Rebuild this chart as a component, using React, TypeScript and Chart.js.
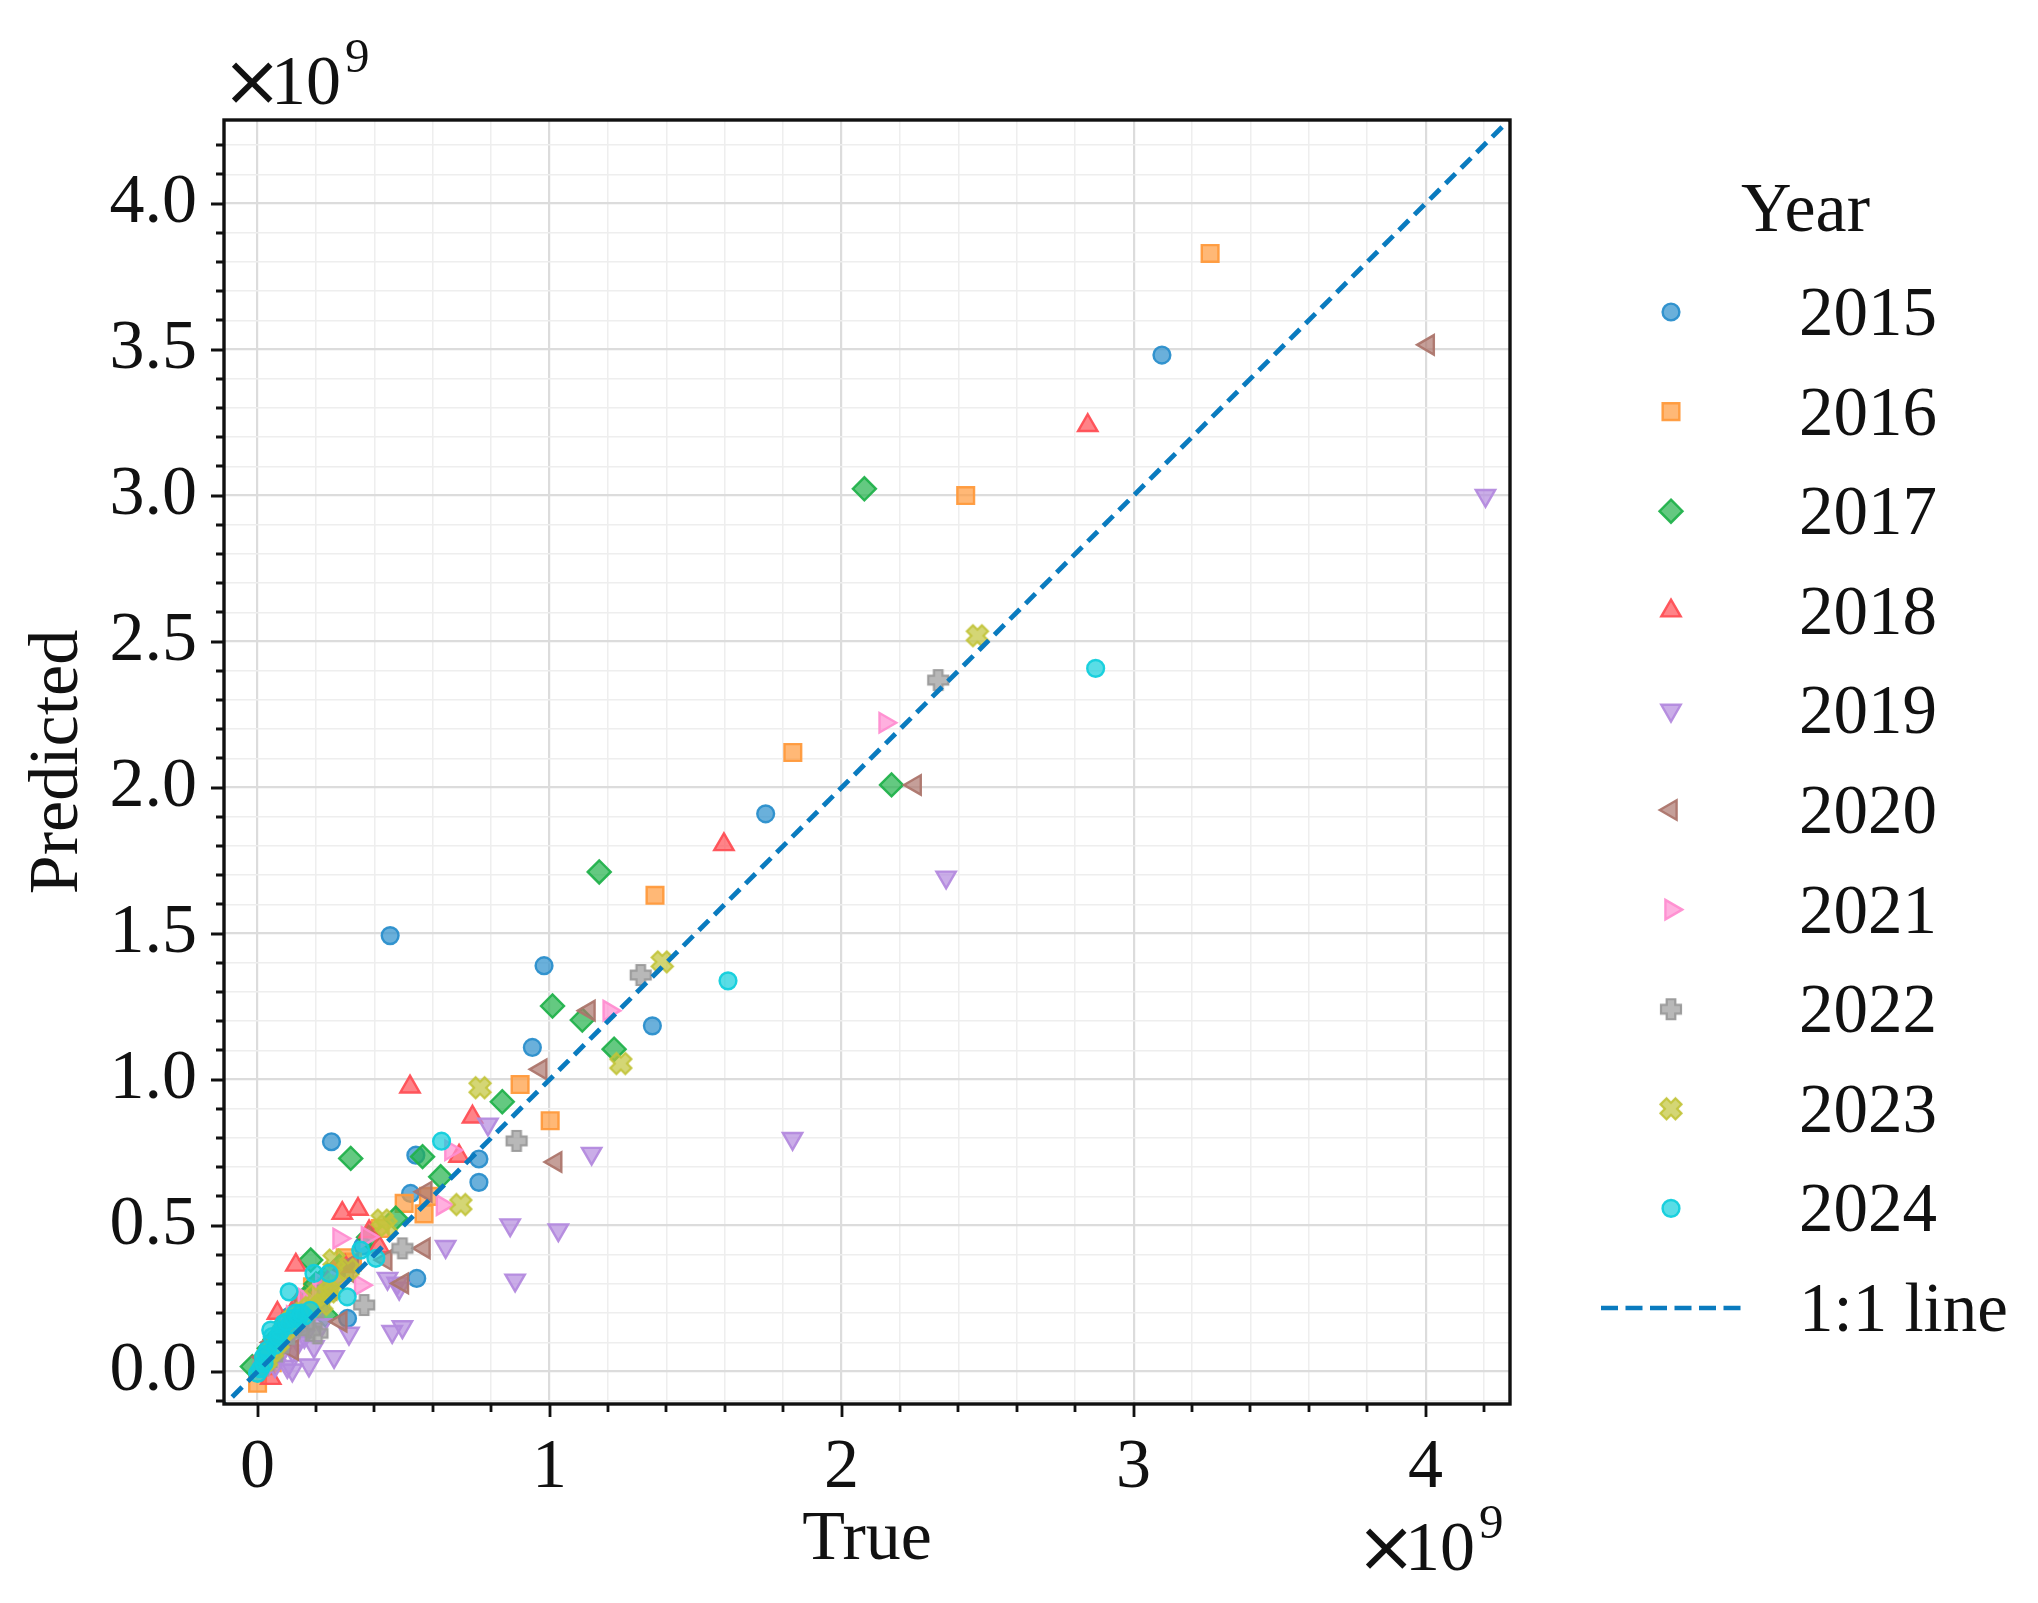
import React, { useEffect, useRef } from 'react';
import { Chart, registerables } from 'chart.js';

Chart.register(...registerables);

// Canvas size and plot frame (pixels)
const W = 2038;
const H = 1603;
const AREA = { left: 224, top: 120, right: 1510, bottom: 1404 };
const SERIF = '"Liberation Serif", "Times New Roman", Times, serif';
const SANS = '"DejaVu Sans", "Liberation Sans", sans-serif';
const INK = '#111111';

// Axis ranges, values in units of 10^9
const X_RANGE = [-0.115, 4.289];
const Y_RANGE = [-0.111, 4.286];
const X_MAJOR_TICKS = [0, 1, 2, 3, 4];
const Y_MAJOR_TICKS = [0, 0.5, 1, 1.5, 2, 2.5, 3, 3.5, 4];
const X_MINOR_STEP = 0.2;
const Y_MINOR_STEP = 0.1;
const EXPONENT = '9';

const YEARS = ['2015', '2016', '2017', '2018', '2019', '2020', '2021', '2022', '2023', '2024'];
const YEAR_COLORS = ['#2b8fcc', '#ff9a3c', '#22b24c', '#ff4f55', '#b48ade', '#ad766d', '#ff8ed1', '#9a9a9a', '#c2c43a', '#12cfdc'];

// [true, predicted] pairs per year, ×10^9
const Y2015 = [
  [3.097, 3.481], [1.74, 1.91], [0.454, 1.493], [0.981, 1.39], [1.352, 1.184], [0.941, 1.11], [0.253, 0.787],
  [0.758, 0.728], [0.758, 0.648], [0.542, 0.741], [0.524, 0.61], [0.545, 0.319], [0.308, 0.182],
  [0.02, 0.03], [0.05, 0.09], [0.09, 0.15], [0.14, 0.21], [0.19, 0.26], [0.27, 0.33], [0.36, 0.43],
  [0.07, 0.11], [0.11, 0.19], [0.17, 0.24], [0.22, 0.31],
];
const Y2016 = [
  [3.262, 3.829], [2.425, 3.0], [1.833, 2.12], [1.361, 1.631], [0.899, 0.983], [1.002, 0.859], [0.502, 0.576],
  [0.57, 0.54], [0.585, 0.6], [0.325, 0.375], [0.188, 0.29], [0.0, -0.04],
  [0.03, 0.02], [0.06, 0.06], [0.1, 0.12], [0.15, 0.2], [0.24, 0.31], [0.42, 0.49], [0.3, 0.39],
  [0.08, 0.09], [0.12, 0.17], [0.2, 0.26], [0.05, 0.03],
];
const Y2017 = [
  [2.078, 3.023], [2.171, 2.009], [1.17, 1.711], [1.01, 1.252], [1.112, 1.204], [1.221, 1.104], [0.838, 0.924],
  [0.319, 0.73], [0.565, 0.736], [0.627, 0.667], [0.473, 0.525], [0.182, 0.382], [0.233, 0.193], [-0.018, 0.017],
  [0.04, 0.08], [0.08, 0.13], [0.12, 0.19], [0.2, 0.3], [0.28, 0.36], [0.38, 0.46],
  [0.06, 0.11], [0.1, 0.17], [0.16, 0.25], [0.24, 0.33],
];
const Y2018 = [
  [2.843, 3.24], [1.597, 1.805], [0.522, 0.975], [0.736, 0.872], [0.69, 0.738], [0.29, 0.542], [0.344, 0.556],
  [0.382, 0.479], [0.416, 0.428], [0.131, 0.365], [0.068, 0.2], [0.045, -0.023],
  [0.02, 0.04], [0.07, 0.1], [0.11, 0.17], [0.17, 0.23], [0.22, 0.29], [0.3, 0.36],
  [0.04, 0.08], [0.09, 0.15], [0.14, 0.24], [0.26, 0.34],
];
const Y2019 = [
  [4.205, 3.0], [2.358, 1.693], [1.832, 0.798], [1.03, 0.485], [0.865, 0.502], [0.882, 0.313], [0.789, 0.847],
  [1.144, 0.747], [0.644, 0.428], [0.445, 0.319], [0.478, 0.302], [0.485, 0.285], [0.461, 0.137], [0.496, 0.153],
  [0.313, 0.131], [0.193, 0.085], [0.262, 0.051], [0.176, 0.022], [0.102, 0.017], [0.119, 0.005],
  [0.04, 0.03], [0.08, 0.06], [0.14, 0.1], [0.22, 0.16], [0.06, 0.02], [0.12, 0.07], [0.16, 0.12],
];
const Y2020 = [
  [4.009, 3.516], [2.252, 2.009], [1.135, 1.236], [0.97, 1.035], [1.021, 0.718], [0.576, 0.616], [0.57, 0.422],
  [0.439, 0.382], [0.496, 0.302], [0.285, 0.171], [0.119, 0.074], [0.325, 0.37],
  [0.02, 0.05], [0.05, 0.1], [0.1, 0.14], [0.15, 0.18], [0.2, 0.25], [0.25, 0.28], [0.31, 0.34],
  [0.07, 0.11], [0.12, 0.16], [0.17, 0.21], [0.04, 0.06],
];
const Y2021 = [
  [2.149, 2.222], [1.204, 1.236], [0.662, 0.758], [0.633, 0.57], [0.279, 0.456], [0.376, 0.462], [0.353, 0.296],
  [0.03, 0.04], [0.06, 0.08], [0.1, 0.15], [0.16, 0.25], [0.21, 0.27], [0.27, 0.31],
  [0.08, 0.12], [0.12, 0.19], [0.18, 0.23], [0.22, 0.3],
];
const Y2022 = [
  [2.331, 2.368], [1.312, 1.358], [0.887, 0.79], [0.496, 0.422], [0.365, 0.228], [0.205, 0.131],
  [0.02, 0.02], [0.05, 0.05], [0.09, 0.11], [0.14, 0.17], [0.18, 0.14], [0.24, 0.28],
  [0.07, 0.08], [0.11, 0.13], [0.16, 0.16], [0.21, 0.22],
];
const Y2023 = [
  [2.465, 2.52], [1.386, 1.403], [1.244, 1.055], [0.762, 0.972], [0.696, 0.572], [0.427, 0.519], [0.262, 0.382],
  [0.245, 0.273], [0.03, 0.04], [0.07, 0.1], [0.12, 0.18], [0.18, 0.22], [0.22, 0.23], [0.31, 0.35], [0.44, 0.5],
  [0.05, 0.07], [0.09, 0.14], [0.15, 0.2], [0.2, 0.26], [0.26, 0.3],
];
const Y2024 = [
  [2.87, 2.408], [1.611, 1.338], [0.63, 0.789], [0.353, 0.416], [0.405, 0.388], [0.193, 0.336], [0.245, 0.336],
  [0.108, 0.273], [0.307, 0.256], [0.0, -0.006], [0.01, 0.01], [0.022, 0.028], [0.02, 0.05], [0.034, 0.074],
  [0.045, 0.142], [0.05, 0.12], [0.06, 0.09], [0.068, 0.108], [0.08, 0.14], [0.09, 0.165], [0.11, 0.16],
  [0.125, 0.182], [0.14, 0.182], [0.16, 0.19], [0.03, 0.06], [0.07, 0.12], [0.1, 0.17], [0.13, 0.2],
  [0.15, 0.2], [0.18, 0.21],
];
const YEAR_DATA = [Y2015, Y2016, Y2017, Y2018, Y2019, Y2020, Y2021, Y2022, Y2023, Y2024];

// Reference line y = x, drawn across the whole axis range
const LINE_1TO1 = [[-0.3, -0.3], [4.5, 4.5]];
const LINE_COLOR = '#0a7bbf';

type Marker = { style: string; radius: number; rotation: number; glyph?: 'plus' | 'x' };
const MARKERS: Marker[] = [
  { style: 'circle', radius: 8.4, rotation: 0 },
  { style: 'rect', radius: 11.8, rotation: 0 },
  { style: 'rectRot', radius: 11.5, rotation: 0 },
  { style: 'triangle', radius: 11.2, rotation: 0 },
  { style: 'triangle', radius: 11.2, rotation: 180 },
  { style: 'triangle', radius: 11.2, rotation: 270 },
  { style: 'triangle', radius: 11.2, rotation: 90 },
  { style: 'glyph', radius: 10, rotation: 0, glyph: 'plus' },
  { style: 'glyph', radius: 10, rotation: 0, glyph: 'x' },
  { style: 'circle', radius: 8.4, rotation: 0 },
];

function withAlpha(hex: string, a: number) {
  const n = parseInt(hex.slice(1), 16);
  return `rgba(${(n >> 16) & 255},${(n >> 8) & 255},${n & 255},${a})`;
}

function isMajor(v: number, majors: number[]) {
  return majors.some((m) => Math.abs(m - v) < 1e-6);
}

// Thick plus / thick x glyphs used as point images
function makeGlyph(kind: 'plus' | 'x', color: string) {
  const size = 26;
  const c = document.createElement('canvas');
  c.width = size;
  c.height = size;
  const g = c.getContext('2d')!;
  g.translate(size / 2, size / 2);
  if (kind === 'x') g.rotate(Math.PI / 4);
  const a = kind === 'x' ? 10.6 : 10;
  const t = 4.3;
  g.beginPath();
  g.moveTo(-t, -a); g.lineTo(t, -a); g.lineTo(t, -t); g.lineTo(a, -t); g.lineTo(a, t); g.lineTo(t, t);
  g.lineTo(t, a); g.lineTo(-t, a); g.lineTo(-t, t); g.lineTo(-a, t); g.lineTo(-a, -t); g.lineTo(-t, -t);
  g.closePath();
  g.fillStyle = withAlpha(color, 0.7);
  g.fill();
  g.strokeStyle = withAlpha(color, 0.95);
  g.lineWidth = 2.2;
  g.stroke();
  return c;
}

function drawMarker(ctx: CanvasRenderingContext2D, m: Marker, color: string, x: number, y: number, glyph?: HTMLCanvasElement) {
  if (glyph) {
    ctx.drawImage(glyph, x - glyph.width / 2, y - glyph.height / 2);
    return;
  }
  ctx.save();
  ctx.translate(x, y);
  let rad = (m.rotation * Math.PI) / 180;
  const r = m.radius;
  ctx.beginPath();
  if (m.style === 'circle') {
    ctx.arc(0, 0, r, 0, Math.PI * 2);
  } else if (m.style === 'rect') {
    const s = r * Math.SQRT1_2;
    ctx.rect(-s, -s, 2 * s, 2 * s);
  } else if (m.style === 'rectRot') {
    ctx.moveTo(0, -r); ctx.lineTo(r, 0); ctx.lineTo(0, r); ctx.lineTo(-r, 0); ctx.closePath();
  } else {
    for (let i = 0; i < 3; i++) {
      const px = Math.sin(rad) * r;
      const py = -Math.cos(rad) * r;
      if (i === 0) ctx.moveTo(px, py); else ctx.lineTo(px, py);
      rad += (2 * Math.PI) / 3;
    }
    ctx.closePath();
  }
  ctx.fillStyle = withAlpha(color, 0.7);
  ctx.fill();
  ctx.strokeStyle = withAlpha(color, 0.95);
  ctx.lineWidth = 2.4;
  ctx.stroke();
  ctx.restore();
}

// "×10" with a superscript exponent; inkLeft is where the × glyph starts
function drawPower(ctx: CanvasRenderingContext2D, inkLeft: number, baseline: number) {
  ctx.textAlign = 'left';
  ctx.textBaseline = 'alphabetic';
  ctx.fillStyle = INK;

  // size the × so its ink is about 42px wide
  ctx.font = `100px ${SANS}`;
  let m = ctx.measureText('\u00d7');
  const inkW = m.actualBoundingBoxRight + m.actualBoundingBoxLeft;
  const size = Math.max(20, Math.round((100 * 42) / Math.max(1, inkW)));
  ctx.font = `${size}px ${SANS}`;
  m = ctx.measureText('\u00d7');
  const xBase = inkLeft + m.actualBoundingBoxLeft;
  const inkMid = (m.actualBoundingBoxAscent - m.actualBoundingBoxDescent) / 2;
  const xCenterY = baseline - 22;
  ctx.fillText('\u00d7', xBase, xCenterY + inkMid);
  const inkRight = xBase + m.actualBoundingBoxRight;

  ctx.font = `70px ${SERIF}`;
  const m10 = ctx.measureText('10');
  const tenX = inkRight + 4 + m10.actualBoundingBoxLeft;
  ctx.fillText('10', tenX, baseline);
  const tenRight = tenX + m10.actualBoundingBoxRight;

  ctx.font = `49px ${SERIF}`;
  ctx.fillText(EXPONENT, tenRight + 6, baseline - 32);
}

export default function App() {
  const ref = useRef<HTMLCanvasElement>(null);

  useEffect(() => {
    const canvas = ref.current;
    if (!canvas) return;

    const glyphs: (HTMLCanvasElement | undefined)[] = MARKERS.map((m, i) =>
      m.glyph ? makeGlyph(m.glyph, YEAR_COLORS[i]) : undefined
    );

    const yearSets = YEARS.map((year, i) => {
      const m = MARKERS[i];
      const color = YEAR_COLORS[i];
      return {
        type: 'scatter' as const,
        label: year,
        data: YEAR_DATA[i].map(([x, y]) => ({ x, y })),
        pointStyle: (glyphs[i] ?? m.style) as any,
        pointRadius: m.radius,
        pointRotation: m.rotation,
        backgroundColor: withAlpha(color, 0.7),
        borderColor: withAlpha(color, 0.95),
        borderWidth: 2.4,
        order: YEARS.length - i,
      };
    });

    const lineSet = {
      type: 'scatter' as const,
      label: '1:1 line',
      data: LINE_1TO1.map(([x, y]) => ({ x, y })),
      showLine: true,
      pointRadius: 0,
      borderColor: LINE_COLOR,
      backgroundColor: LINE_COLOR,
      borderWidth: 4.8,
      borderDash: [14, 8],
      order: 0,
    };

    const decor = {
      id: 'decor',
      afterDraw(chart: any) {
        const ctx: CanvasRenderingContext2D = chart.ctx;
        const a = chart.chartArea;
        const xs = chart.scales.x;
        const ys = chart.scales.y;
        ctx.save();

        // tick marks outside the frame
        ctx.strokeStyle = INK;
        ctx.lineWidth = 2.8;
        ctx.beginPath();
        for (const t of xs.ticks) {
          const px = Math.round(xs.getPixelForValue(t.value));
          const len = isMajor(t.value, X_MAJOR_TICKS) ? 13 : 8;
          ctx.moveTo(px, a.bottom);
          ctx.lineTo(px, a.bottom + len);
        }
        for (const t of ys.ticks) {
          const py = Math.round(ys.getPixelForValue(t.value));
          const len = isMajor(t.value, Y_MAJOR_TICKS) ? 13 : 8;
          ctx.moveTo(a.left, py);
          ctx.lineTo(a.left - len, py);
        }
        ctx.stroke();

        // frame
        ctx.lineWidth = 3.4;
        ctx.strokeRect(a.left, a.top, a.right - a.left, a.bottom - a.top);

        // ×10^9 multipliers
        drawPower(ctx, a.left + 7, 104);
        drawPower(ctx, a.right - 145, 1570);

        // legend
        const mx = 1671;
        const tx = 1799;
        const rowY = (k: number) => 312 + k * 99.6;
        ctx.fillStyle = INK;
        ctx.textAlign = 'left';
        ctx.textBaseline = 'alphabetic';
        ctx.font = `70px ${SERIF}`;
        ctx.fillText('Year', 1741, 208 + 23);
        YEARS.forEach((year, i) => {
          const y = rowY(i);
          drawMarker(ctx, MARKERS[i], YEAR_COLORS[i], mx, y, glyphs[i]);
          ctx.fillStyle = INK;
          ctx.font = `69px ${SERIF}`;
          ctx.fillText(year, tx, y + 23);
        });
        const ly = rowY(YEARS.length);
        ctx.strokeStyle = LINE_COLOR;
        ctx.lineWidth = 4.6;
        ctx.setLineDash([17, 7.5]);
        ctx.beginPath();
        ctx.moveTo(1601, ly);
        ctx.lineTo(1742, ly);
        ctx.stroke();
        ctx.setLineDash([]);
        ctx.fillStyle = INK;
        ctx.fillText('1:1 line', tx, ly + 23);

        ctx.restore();
      },
    };

    const gridColor = (majors: number[]) => (c: any) =>
      isMajor(c.tick?.value ?? NaN, majors) ? '#dcdcdc' : '#eeeeee';
    const gridWidth = (majors: number[]) => (c: any) =>
      isMajor(c.tick?.value ?? NaN, majors) ? 2.2 : 1.5;

    const chart = new Chart(canvas, {
      type: 'scatter',
      data: { datasets: [lineSet, ...yearSets] as any },
      options: {
        responsive: false,
        animation: false,
        layout: { padding: { left: 0, top: AREA.top, right: W - AREA.right, bottom: 0 } },
        plugins: { legend: { display: false }, tooltip: { enabled: false } },
        scales: {
          x: {
            type: 'linear',
            position: 'bottom',
            min: X_RANGE[0],
            max: X_RANGE[1],
            afterFit: (s: any) => { s.height = H - AREA.bottom; },
            border: { display: false },
            grid: { drawTicks: false, color: gridColor(X_MAJOR_TICKS), lineWidth: gridWidth(X_MAJOR_TICKS) },
            ticks: {
              stepSize: X_MINOR_STEP,
              includeBounds: false,
              autoSkip: false,
              maxRotation: 0,
              minRotation: 0,
              padding: 23,
              color: INK,
              font: { family: SERIF, size: 70 },
              callback: (v: any) => (isMajor(Number(v), X_MAJOR_TICKS) ? String(Math.round(Number(v))) : ''),
            },
            title: {
              display: true,
              text: 'True',
              color: INK,
              font: { family: SERIF, size: 70 },
              padding: { top: 0, bottom: 20 },
            },
          },
          y: {
            type: 'linear',
            position: 'left',
            min: Y_RANGE[0],
            max: Y_RANGE[1],
            afterFit: (s: any) => { s.width = AREA.left; },
            border: { display: false },
            grid: { drawTicks: false, color: gridColor(Y_MAJOR_TICKS), lineWidth: gridWidth(Y_MAJOR_TICKS) },
            ticks: {
              stepSize: Y_MINOR_STEP,
              includeBounds: false,
              autoSkip: false,
              padding: 27,
              color: INK,
              font: { family: SERIF, size: 70 },
              callback: (v: any) => (isMajor(Number(v), Y_MAJOR_TICKS) ? Number(v).toFixed(1) : ''),
            },
            title: {
              display: true,
              text: 'Predicted',
              color: INK,
              font: { family: SERIF, size: 70 },
              padding: { top: 17, bottom: 0 },
            },
          },
        },
      },
      plugins: [decor],
    } as any);

    return () => chart.destroy();
  }, []);

  return (
    <div style={{ position: 'absolute', left: 0, top: 0, width: W, height: H, background: '#fff' }}>
      <canvas ref={ref} width={W} height={H} style={{ width: W, height: H, display: 'block' }} />
    </div>
  );
}
